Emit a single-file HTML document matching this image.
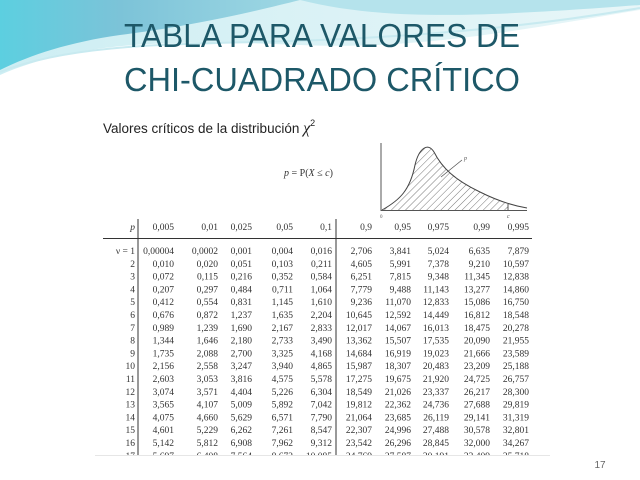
<!DOCTYPE html>
<html><head><meta charset="utf-8"><style>
html,body{margin:0;padding:0;background:#fff;}
svg{display:block;}
</style></head><body>
<svg id="slide" width="640" height="480" viewBox="0 0 640 480" xmlns="http://www.w3.org/2000/svg">
<defs>
<linearGradient id="wave1" x1="0" y1="0" x2="1" y2="0">
<stop offset="0" stop-color="#5ccfe0"/><stop offset="0.4" stop-color="#7cc3d8"/><stop offset="1" stop-color="#9fd8e4"/>
</linearGradient>
<linearGradient id="wave2" x1="0" y1="0" x2="1" y2="0">
<stop offset="0" stop-color="#cdeef3"/><stop offset="1" stop-color="#e8f6f8"/>
</linearGradient>
<pattern id="hatch" width="5" height="5" patternUnits="userSpaceOnUse" patternTransform="rotate(45)">
<line x1="0" y1="0" x2="0" y2="5" stroke="#555" stroke-width="0.8"/>
</pattern>
<clipPath id="tableClip"><rect x="90" y="100" width="470" height="355"/></clipPath>
</defs>
<g>
<path d="M0,0 H640 V10 C520,30 420,50 300,45 C180,40 80,40 0,75 Z" fill="url(#wave2)"/>
<path d="M0,0 H300 C260,10 200,25 120,35 C70,42 30,55 0,70 Z" fill="url(#wave1)"/>
<path d="M300,0 C380,20 470,18 640,5 V0 Z" fill="#b5e3ec"/>
<path d="M0,72 C80,40 200,45 320,40 C440,35 540,25 640,8" fill="none" stroke="#c8eaf0" stroke-width="2"/>
</g>
<text x="322" y="47" text-anchor="middle" font-family="Liberation Sans, sans-serif" font-size="33" fill="#1d5868" textLength="396" lengthAdjust="spacingAndGlyphs">TABLA PARA VALORES DE</text>
<text x="322" y="91" text-anchor="middle" font-family="Liberation Sans, sans-serif" font-size="33" fill="#1d5868" textLength="396" lengthAdjust="spacingAndGlyphs">CHI-CUADRADO CRÍTICO</text>
<text x="103" y="133" font-family="Liberation Sans, sans-serif" font-size="13.5" fill="#222">Valores críticos de la distribución <tspan font-family="Liberation Serif, serif" font-style="italic" font-size="16">χ</tspan><tspan font-size="9" dy="-7">2</tspan></text>
<text x="284" y="176" font-family="Liberation Serif, serif" font-size="10" fill="#333"><tspan font-style="italic">p</tspan> = P(<tspan font-style="italic">X</tspan> ≤ <tspan font-style="italic">c</tspan>)</text>
<g>
<path d="M382,210 C400,200 410,190 415,165 C419,148 428,142 434,152 C442,168 455,180 480,192 C495,199 503,203 508,204 V210 Z" fill="url(#hatch)"/>
<path d="M382,210 C400,200 410,190 415,165 C419,148 428,142 434,152 C442,168 455,180 480,192 C500,202 515,206 527,208" fill="none" stroke="#444" stroke-width="1"/>
<line x1="381" y1="143" x2="381" y2="211" stroke="#555" stroke-width="1"/>
<line x1="381" y1="210.5" x2="527" y2="210.5" stroke="#555" stroke-width="1"/>
<line x1="508" y1="204" x2="508" y2="211" stroke="#555" stroke-width="1"/>
<line x1="441" y1="177" x2="462" y2="160" stroke="#555" stroke-width="0.8"/>
<text x="464" y="160" font-family="Liberation Serif, serif" font-style="italic" font-size="6" fill="#555">p</text>
<text x="380" y="218" font-family="Liberation Serif, serif" font-size="5" fill="#555">0</text>
<text x="507" y="218" font-family="Liberation Serif, serif" font-style="italic" font-size="6" fill="#555">c</text>
</g>
<g id="table" clip-path="url(#tableClip)"></g>
<line x1="95" y1="455.5" x2="550" y2="455.5" stroke="#e6e6e6" stroke-width="1"/>
<text x="600" y="468" text-anchor="middle" font-family="Liberation Sans, sans-serif" font-size="10" fill="#666">17</text>
</svg>
<script>
const probs = ["0,005","0,01","0,025","0,05","0,1","0,9","0,95","0,975","0,99","0,995"];
const dof = ["ν = 1","2","3","4","5","6","7","8","9","10","11","12","13","14","15","16","17"];
const rows = [
["0,00004","0,0002","0,001","0,004","0,016","2,706","3,841","5,024","6,635","7,879"],
["0,010","0,020","0,051","0,103","0,211","4,605","5,991","7,378","9,210","10,597"],
["0,072","0,115","0,216","0,352","0,584","6,251","7,815","9,348","11,345","12,838"],
["0,207","0,297","0,484","0,711","1,064","7,779","9,488","11,143","13,277","14,860"],
["0,412","0,554","0,831","1,145","1,610","9,236","11,070","12,833","15,086","16,750"],
["0,676","0,872","1,237","1,635","2,204","10,645","12,592","14,449","16,812","18,548"],
["0,989","1,239","1,690","2,167","2,833","12,017","14,067","16,013","18,475","20,278"],
["1,344","1,646","2,180","2,733","3,490","13,362","15,507","17,535","20,090","21,955"],
["1,735","2,088","2,700","3,325","4,168","14,684","16,919","19,023","21,666","23,589"],
["2,156","2,558","3,247","3,940","4,865","15,987","18,307","20,483","23,209","25,188"],
["2,603","3,053","3,816","4,575","5,578","17,275","19,675","21,920","24,725","26,757"],
["3,074","3,571","4,404","5,226","6,304","18,549","21,026","23,337","26,217","28,300"],
["3,565","4,107","5,009","5,892","7,042","19,812","22,362","24,736","27,688","29,819"],
["4,075","4,660","5,629","6,571","7,790","21,064","23,685","26,119","29,141","31,319"],
["4,601","5,229","6,262","7,261","8,547","22,307","24,996","27,488","30,578","32,801"],
["5,142","5,812","6,908","7,962","9,312","23,542","26,296","28,845","32,000","34,267"],
["5,697","6,408","7,564","8,672","10,085","24,769","27,587","30,191","33,409","35,718"]
];
const NS="http://www.w3.org/2000/svg";
const g=document.getElementById('table');
const colRight=[174,218,252,293,332,372,411,449,490,529];
const rowY=i=>254+i*12.8;
function txt(x,y,s,name,italic){
  const t=document.createElementNS(NS,'text');
  t.setAttribute('x',x);t.setAttribute('y',y);t.setAttribute('text-anchor','end');
  t.setAttribute('font-family','Liberation Serif, serif');t.setAttribute('font-size','9.5');
  t.setAttribute('fill','#333');
  if(italic)t.setAttribute('font-style','italic');
  t.textContent=s;
  
  
  g.appendChild(t);
}
txt(135,230,'p','header-p',true);
probs.forEach((p,j)=>txt(colRight[j],230,p,'header-prob'));
rows.forEach((r,i)=>{
  txt(135,rowY(i),dof[i],'degrees-of-freedom');
  r.forEach((v,j)=>txt(colRight[j],rowY(i),v,'critical-value'));
});
function ln(x1,y1,x2,y2,name){
  const l=document.createElementNS(NS,'line');
  l.setAttribute('x1',x1);l.setAttribute('y1',y1);l.setAttribute('x2',x2);l.setAttribute('y2',y2);
  l.setAttribute('stroke','#333');l.setAttribute('stroke-width','1');
  
  
  g.appendChild(l);
}
ln(103,238.5,532,238.5,'header-rule');
ln(138,219,138,455,'dof-divider');
ln(336,219,336,455,'tail-divider');
</script>
</body></html>
